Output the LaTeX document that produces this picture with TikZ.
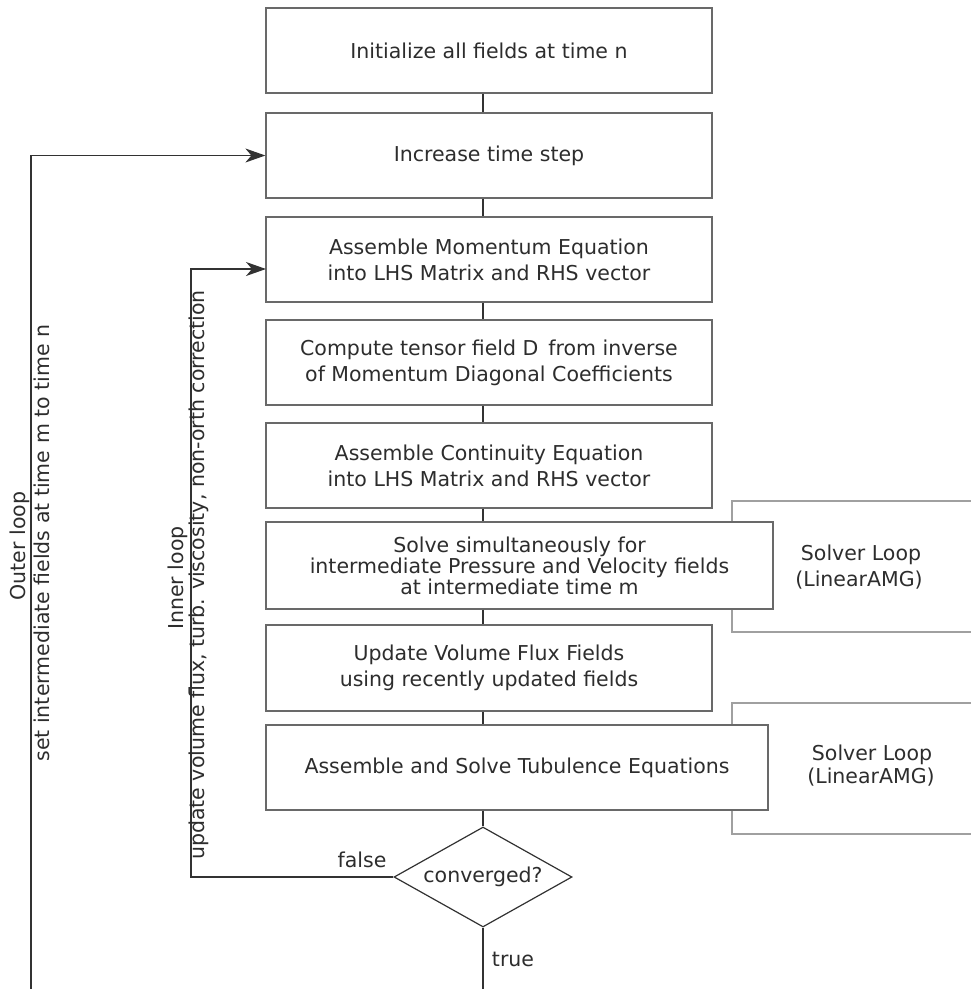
\documentclass[tikz,border=0pt]{standalone}
\usepackage{fontspec}
\setmainfont{DejaVu Sans}
\usetikzlibrary{arrows.meta,shapes.geometric}
\definecolor{boxline}{RGB}{105,105,105}
\definecolor{solverline}{RGB}{160,160,160}
\definecolor{flowline}{RGB}{50,50,50}
\definecolor{txt}{RGB}{45,45,45}
\newcommand{\flowfont}{\fontsize{20.5}{26}\selectfont}
\begin{document}
\begin{tikzpicture}[x=1pt,y=-1pt,
  stepbox/.style={draw=boxline, line width=1.2pt, fill=white, rectangle,
    align=center, font=\flowfont, text=txt, inner sep=0pt},
  decision/.style={draw=flowline, line width=1.2pt, fill=white, diamond,
    aspect=1.78, minimum width=178pt, minimum height=100pt, inner sep=0pt,
    font=\flowfont, text=txt},
  solverbox/.style={draw=solverline, line width=1.2pt},
  label/.style={font=\flowfont, text=txt, inner sep=0pt},
  link/.style={draw=flowline, line width=1.2pt},
  flow/.style={link, -{Stealth[length=20pt,width=14pt,inset=6pt]}},
]
\useasboundingbox (0,0) rectangle (971,989);

% solver loop frames, open to the right, sitting behind the solve boxes
\draw[solverbox] (971,501) -- (732,501) -- (732,632) -- (971,632);
\draw[solverbox] (971,703) -- (732,703) -- (732,834) -- (971,834);
\node[label] (sl1) at (861,555) {Solver Loop};
\node[label] (sa1) at (859,580) {(LinearAMG)};
\node[label] (sl2) at (872,755) {Solver Loop};
\node[label] (sa2) at (871,777) {(LinearAMG)};

% main column of steps
\coordinate (axis) at (483,0);
\node[stepbox, minimum width=446pt, minimum height=85pt] (b1) at (489,50.5)
  {Initialize all fields at time n};
\node[stepbox, minimum width=446pt, minimum height=85pt] (b2) at (489,155.5)
  {Increase time step};
\node[stepbox, minimum width=446pt, minimum height=85pt] (b3) at (489,259.5)
  {Assemble Momentum Equation\\into LHS Matrix and RHS vector};
\node[stepbox, minimum width=446pt, minimum height=85pt] (b4) at (489,362.5)
  {Compute tensor field D\, from inverse\\of Momentum Diagonal Coefficients};
\node[stepbox, minimum width=446pt, minimum height=85pt] (b5) at (489,465.5)
  {Assemble Continuity Equation\\into LHS Matrix and RHS vector};
\node[stepbox, minimum width=507pt, minimum height=87pt,
  font=\fontsize{20.5}{21}\selectfont] (b6) at (519.5,565.5)
  {Solve simultaneously for\\intermediate Pressure and Velocity fields\\at intermediate time m};
\node[stepbox, minimum width=446pt, minimum height=86pt] (b7) at (489,668)
  {Update Volume Flux Fields\\using recently updated fields};
\node[stepbox, minimum width=502pt, minimum height=85pt] (b8) at (517,767.5)
  {Assemble and Solve Tubulence Equations};
\node[decision] (conv) at (483,877) {converged?};

% straight links down the column
\draw[link] (b1.south -| axis) -- (b2.north -| axis);
\draw[link] (b2.south -| axis) -- (b3.north -| axis);
\draw[link] (b3.south -| axis) -- (b4.north -| axis);
\draw[link] (b4.south -| axis) -- (b5.north -| axis);
\draw[link] (b5.south -| axis) -- (b6.north -| axis);
\draw[link] (b6.south -| axis) -- (b7.north -| axis);
\draw[link] (b7.south -| axis) -- (b8.north -| axis);
\draw[link] (b8.south -| axis) -- (conv.north);
\coordinate (exit) at (483,989);
\draw[link] (conv.south) -- (exit);
\node[label] (true) at (513,959) {true};

% inner loop back to the momentum assembly
\coordinate (innerx) at (191,0);
\coordinate (intarget) at (266,269);
\draw[flow] (conv.west) -- (conv.west -| innerx) |- (intarget);
\node[label] (false) at (362,860) {false};
\node[label, rotate=90] (innerlbl) at (178,578) {Inner loop};
\node[label, rotate=90] (innertxt) at (199,575)
  {update volume flux, turb. viscosity, non-orth correction};

% outer loop back to the time step
\coordinate (outerstart) at (31,989);
\draw[flow] (outerstart) |- (b2.west);
\node[label, rotate=90] (outerlbl) at (20,546) {Outer loop};
\node[label, rotate=90] (outertxt) at (42,543)
  {set intermediate fields at time m to time n};
\end{tikzpicture}
\end{document}
